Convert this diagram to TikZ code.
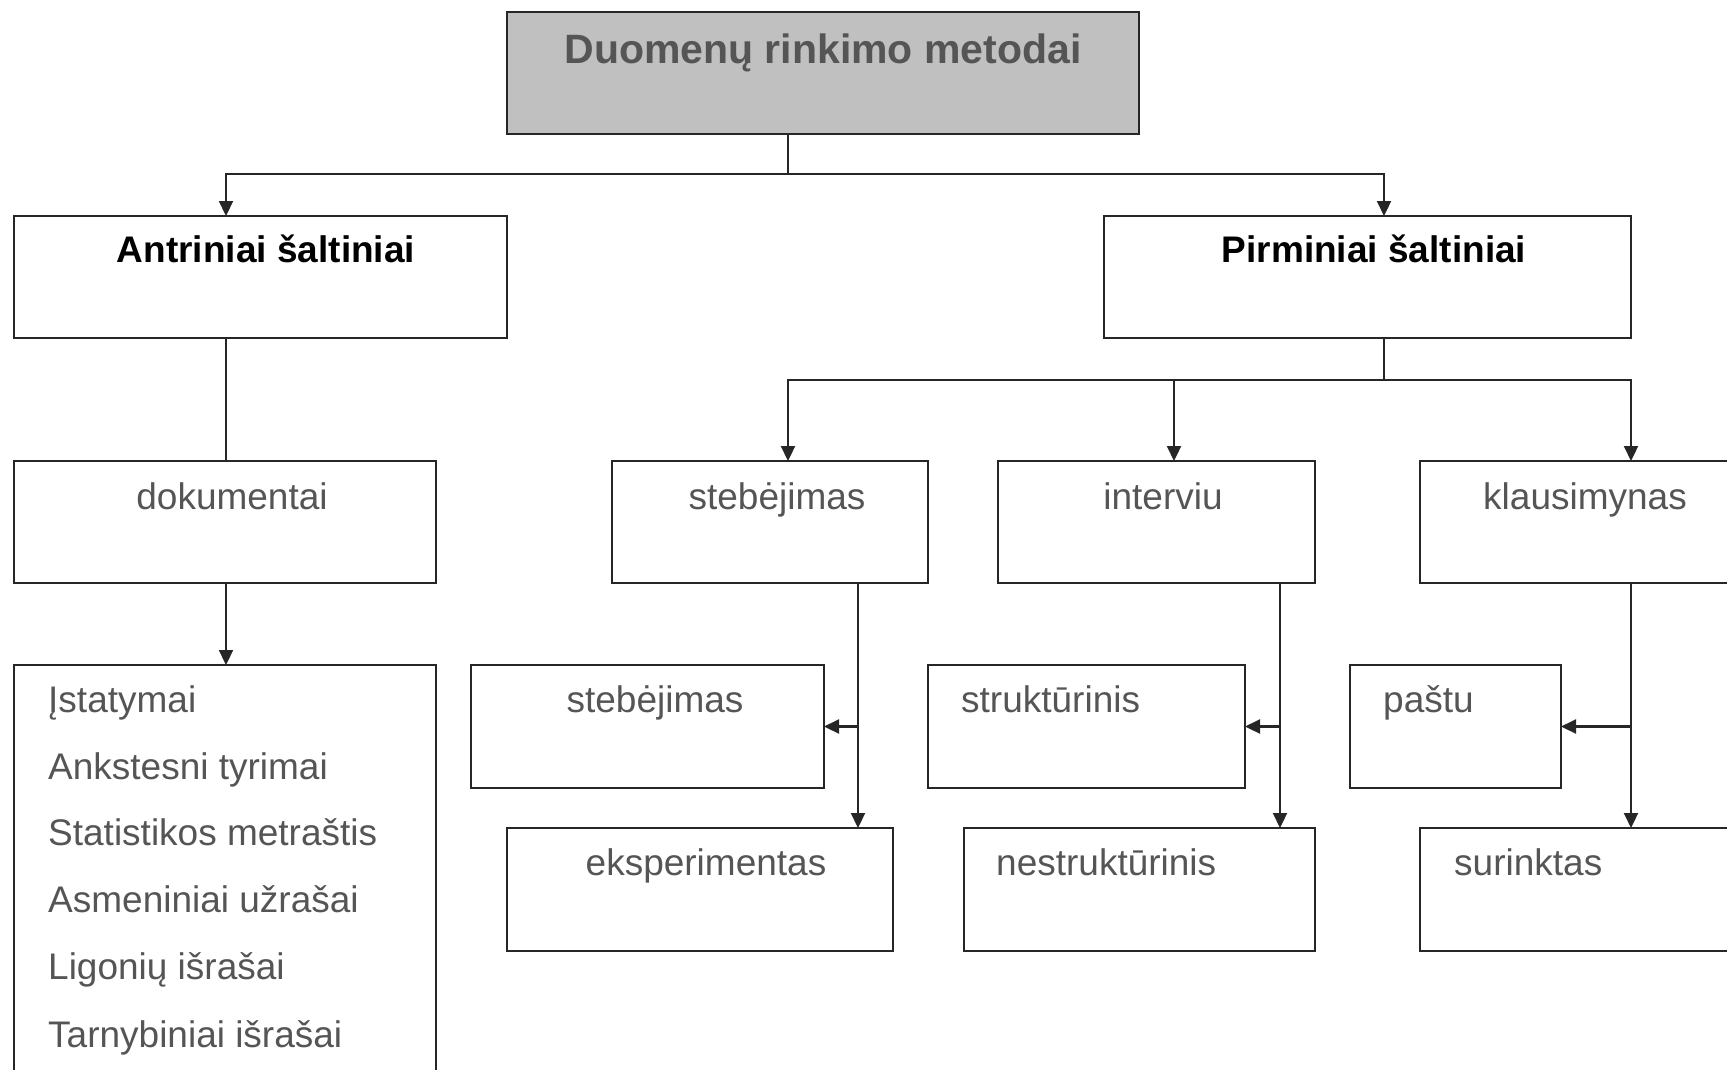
\documentclass[tikz,border=0pt]{standalone}
\usepackage{fontspec}
\setmainfont{Liberation Sans}
\usetikzlibrary{arrows.meta}
\definecolor{linecol}{HTML}{262626}
\definecolor{txtcol}{HTML}{555555}
\definecolor{titlefill}{HTML}{C0C0C0}
\tikzset{
  box/.style={draw=linecol, line width=2.4pt, inner sep=0pt, outer sep=0pt, anchor=north west},
  conn/.style={draw=linecol, line width=2.2pt},
  arr/.style={conn, -{Triangle[length=15pt,width=14pt]}},
  txt/.style={inner sep=0pt, text=txtcol, font=\fontsize{37pt}{44pt}\selectfont, anchor=base},
  txtl/.style={txt, anchor=base west},
  btxt/.style={inner sep=0pt, text=black, font=\fontsize{37pt}{44pt}\selectfont\bfseries, anchor=base},
}
\newcommand{\bx}[6][]{\node[box,#1, minimum width=#5pt-#3pt, minimum height=#6pt-#4pt] (#2) at (#3,#4) {};}
\begin{document}
\begin{tikzpicture}[x=1pt,y=-1pt]
\clip (0,0) rectangle (1727,1069);
\useasboundingbox (0,0) rectangle (1727,1069);
% boxes
\bx[fill=titlefill]{top}{507}{12}{1139}{134}
\bx{anti}{14}{216}{507}{338}
\bx{pirm}{1104}{216}{1631}{338}
\bx{dok}{14}{461}{436}{583}
\bx{steb}{612}{461}{928}{583}
\bx{intv}{998}{461}{1315}{583}
\bx{klaus}{1420}{461}{1745}{583}
\bx{list}{14}{665}{436}{1085}
\bx{stebb}{471}{665}{824}{788}
\bx{eksp}{507}{828}{893}{951}
\bx{strk}{928}{665}{1245}{788}
\bx{nstr}{964}{828}{1315}{951}
\bx{past}{1350}{665}{1561}{788}
\bx{surk}{1420}{828}{1745}{951}
% texts
\node[btxt, text=txtcol, font=\fontsize{41pt}{48pt}\selectfont\bfseries] (ttop) at (823,63) {Duomenų rinkimo metodai};
\node[btxt] (tanti) at (266,262) {Antriniai šaltiniai};
\node[btxt] (tpirm) at (1374,262) {Pirminiai šaltiniai};
\node[txt] (tdok) at (232,509) {dokumentai};
\node[txt] (tsteb) at (777,509) {stebėjimas};
\node[txt] (tintv) at (1163,509) {interviu};
\node[txt] (tklaus) at (1585,509) {klausimynas};
\node[txt] (tstebb) at (655,712) {stebėjimas};
\node[txt] (teksp) at (706,875) {eksperimentas};
\node[txtl] (tstrk) at (961,712) {struktūrinis};
\node[txtl] (tnstr) at (996,875) {nestruktūrinis};
\node[txtl] (tpast) at (1383,712) {paštu};
\node[txtl] (tsurk) at (1454,875) {surinktas};
\node[txtl] (l1) at (48,712) {Įstatymai};
\node[txtl] (l2) at (48,779) {Ankstesni tyrimai};
\node[txtl] (l3) at (48,845) {Statistikos metraštis};
\node[txtl] (l4) at (48,912) {Asmeniniai užrašai};
\node[txtl] (l5) at (48,979) {Ligonių išrašai};
\node[txtl] (l6) at (48,1047) {Tarnybiniai išrašai};
% connector points
\coordinate (topout) at (788,134);
\coordinate (j1) at (788,174);
\coordinate (antiin) at (226,216);
\coordinate (pirmin) at (1384,216);
\coordinate (antiout) at (226,338);
\coordinate (dokin) at (226,461);
\coordinate (dokout) at (226,583);
\coordinate (listin) at (226,665);
\coordinate (pirmout) at (1384,338);
\coordinate (j2) at (1384,380);
\coordinate (stebin) at (788,461);
\coordinate (intvin) at (1174,461);
\coordinate (klausin) at (1631,461);
\coordinate (stebout) at (858,583);
\coordinate (eksin) at (858,828);
\coordinate (intvout) at (1280,583);
\coordinate (nstrin) at (1280,828);
\coordinate (klausout) at (1631,583);
\coordinate (surkin) at (1631,828);
% connectors
\draw[conn] (topout) -- (j1);
\draw[arr] (j1) -| (antiin);
\draw[arr] (j1) -| (pirmin);
\draw[conn] (antiout) -- (dokin);
\draw[arr] (dokout) -- (listin);
\draw[conn] (pirmout) -- (j2);
\draw[arr] (j2) -| (stebin);
\draw[arr] (j2) -| (intvin);
\draw[arr] (j2) -| (klausin);
\draw[arr] (stebout) -- (eksin);
\draw[arr] (stebout |- stebb.east) -- (stebb.east);
\draw[arr] (intvout) -- (nstrin);
\draw[arr] (intvout |- strk.east) -- (strk.east);
\draw[arr] (klausout) -- (surkin);
\draw[arr] (klausout |- past.east) -- (past.east);
\end{tikzpicture}
\end{document}
